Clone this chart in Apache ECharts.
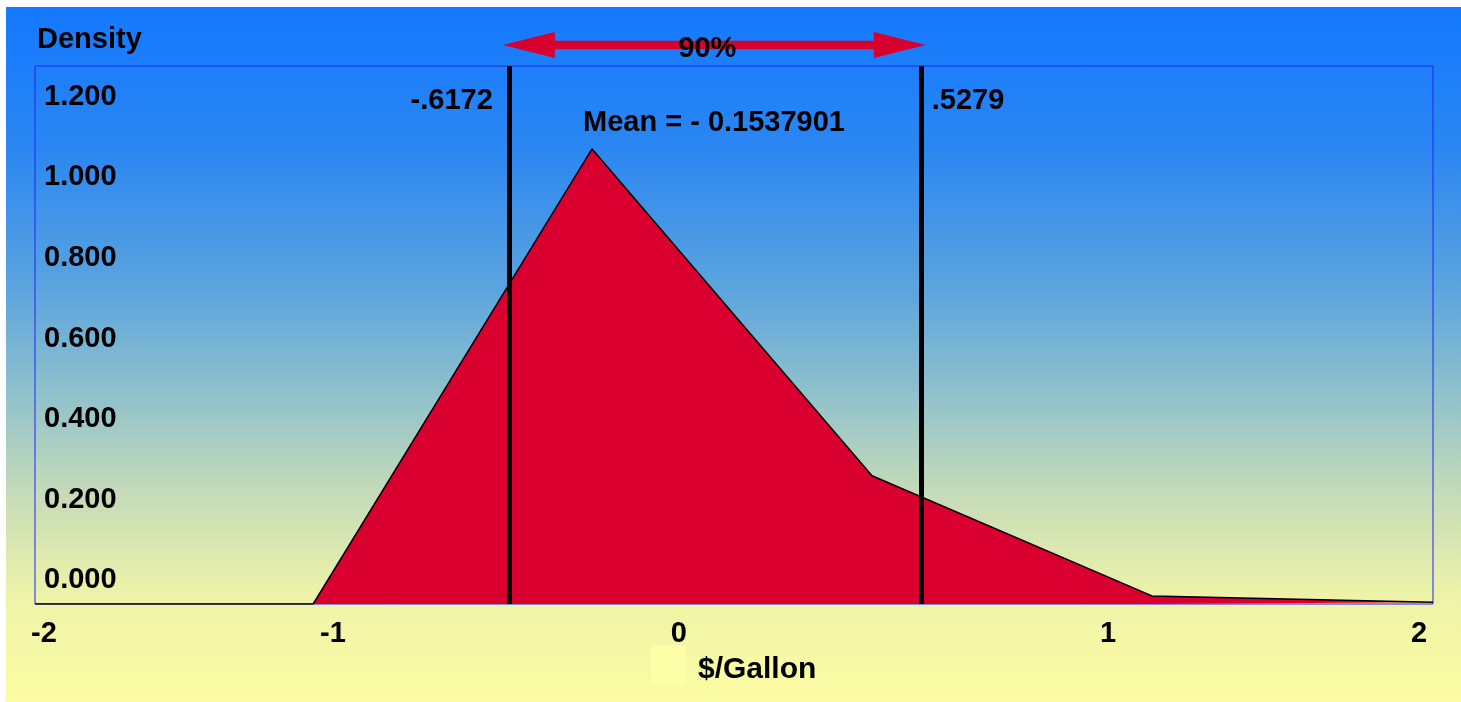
<!DOCTYPE html>
<html>
<head>
<meta charset="utf-8">
<title>Density – $/Gallon</title>
<script src="https://cdn.jsdelivr.net/npm/echarts@6/dist/echarts.min.js"></script>
<style>
  html, body { margin: 0; padding: 0; background: #ffffff; }
  #chart { width: 1461px; height: 702px; }
</style>
</head>
<body>
<div id="chart"></div>
<script>
// Piecewise-linear density of the price change ($/Gallon)
const xValues = [-1.94, -1.165, -0.388, 0.392, 1.172, 1.955];
const density = [0, 0, 1.015, 0.286, 0.018, 0.004];

// 90% interval bounds and the distribution mean
const bounds = [-0.6172, 0.5279];
const boundLabels = ['-.6172', '.5279'];
const meanValue = -0.1537901;
const coverageLabel = '90%';

// Axis tick labels (x labels sit at the values in xTickAt)
const xTickLabels = ['-2', '-1', '0', '1', '2'];
const xTickAt = [-1.915, -1.11, -0.146, 1.05, 1.916];
const yTickValues = [0, 0.2, 0.4, 0.6, 0.8, 1.0, 1.2];
const yTitle = 'Density';

const FONT = '"Liberation Sans", Arial, sans-serif';
const txt = { fontFamily: FONT, fontWeight: 'bold', fontSize: 29, color: '#000' };

const chart = echarts.init(document.getElementById('chart'), null, { renderer: 'canvas' });

const seriesData = xValues.map((x, i) => [x, density[i]]);

const option = {
  animation: false,
  backgroundColor: '#ffffff',
  grid: {
    left: 35, top: 66, right: 28, bottom: 98,
    show: true, borderColor: '#2222ff', borderWidth: 1,
    backgroundColor: 'transparent',
    outerBoundsMode: 'none'
  },
  legend: {
    left: 651, top: 645, padding: 0,
    selectedMode: false,
    itemWidth: 35, itemHeight: 40,
    icon: 'rect',
    itemStyle: { borderWidth: 0 },
    formatter: (name) => '{t|' + name + '}',
    textStyle: Object.assign({}, txt, {
      fontSize: 30,
      rich: { t: Object.assign({}, txt, { fontSize: 30, padding: [10, 0, 0, 7] }) }
    }),
    data: [{ name: '$/Gallon', itemStyle: { color: '#fdfea8' } }]
  },
  xAxis: [{
    type: 'value',
    min: xValues[0], max: xValues[xValues.length - 1],
    axisLine: { show: false }, axisTick: { show: false }, splitLine: { show: false },
    axisLabel: Object.assign({}, txt, {
      margin: 15,
      customValues: xTickAt,
      formatter: (v) => {
        let best = 0;
        xTickAt.forEach((t, i) => { if (Math.abs(t - v) < Math.abs(xTickAt[best] - v)) best = i; });
        return xTickLabels[best];
      }
    })
  }],
  yAxis: [{
    type: 'value', position: 'left', min: 0, max: 1.2,
    axisLine: { show: false }, axisTick: { show: false }, splitLine: { show: false },
    axisLabel: { show: false }
  }, {
    // label scale for the density ticks printed inside the plot
    type: 'value', position: 'left', min: -0.0596, max: 1.277,
    axisLine: { show: false }, axisTick: { show: false }, splitLine: { show: false },
    axisLabel: Object.assign({}, txt, {
      inside: true, margin: 9,
      customValues: yTickValues,
      formatter: (v) => v.toFixed(3)
    })
  }],
  graphic: [],
  series: [{
    name: '$/Gallon',
    type: 'line',
    data: seriesData,
    symbol: 'none',
    lineStyle: { color: '#000', width: 1.5 },
    areaStyle: { color: '#d90030', opacity: 1 },
    itemStyle: { color: '#d90030' },
    z: 2,
    markLine: {
      silent: true,
      symbol: 'none',
      lineStyle: { color: '#000', width: 5, type: 'solid' },
      label: { show: false },
      data: bounds.map(b => ({ xAxis: b }))
    },
    markPoint: {
      silent: true,
      symbol: 'circle', symbolSize: 0,
      data: bounds.map((b, i) => ({
        coord: [b, 1.122],
        label: Object.assign({}, txt, {
          show: true,
          position: i === 0 ? 'left' : 'right',
          distance: i === 0 ? 17 : 11,
          formatter: boundLabels[i]
        })
      }))
    }
  }]
};

chart.setOption(option);

// Background wash, interval arrow and annotation texts
const left = chart.convertToPixel({ xAxisIndex: 0, yAxisIndex: 0 }, [bounds[0], 0])[0];
const right = chart.convertToPixel({ xAxisIndex: 0, yAxisIndex: 0 }, [bounds[1], 0])[0];
const tipL = left - 7, tipR = right + 5, ay = 45, head = 52, halfHead = 13, halfShaft = 4.25;
const arrowPoints = [
  [tipL, ay], [tipL + head, ay - halfHead], [tipL + head, ay - halfShaft],
  [tipR - head, ay - halfShaft], [tipR - head, ay - halfHead], [tipR, ay],
  [tipR - head, ay + halfHead], [tipR - head, ay + halfShaft],
  [tipL + head, ay + halfShaft], [tipL + head, ay + halfHead]
];

chart.setOption({
  graphic: [
    {
      type: 'rect', z: -100, silent: true,
      shape: { x: 6, y: 7, width: 1455, height: 695 },
      style: {
        fill: new echarts.graphic.LinearGradient(0, 0, 0, 1, [
          { offset: 0, color: '#1479ff' },
          { offset: 0.2, color: '#2a86f2' },
          { offset: 0.4, color: '#5aa3de' },
          { offset: 0.55, color: '#8ec0cd' },
          { offset: 0.7, color: '#c5dbb8' },
          { offset: 0.85, color: '#eef3a8' },
          { offset: 1, color: '#fcfca2' }
        ])
      }
    },
    {
      type: 'text', z: 60, silent: true,
      x: 37, y: 40,
      style: { text: yTitle, font: 'bold 29px ' + FONT, fill: '#000', align: 'left', verticalAlign: 'middle' }
    },
    {
      type: 'polygon', z: 50, silent: true,
      shape: { points: arrowPoints },
      style: { fill: '#d8002f' }
    },
    {
      type: 'text', z: 60, silent: true,
      x: (tipL + tipR) / 2 - 7, y: 49,
      style: { text: coverageLabel, font: 'bold 29px ' + FONT, fill: '#000', align: 'center', verticalAlign: 'middle' }
    },
    {
      type: 'text', z: 60, silent: true,
      x: 714, y: 123,
      style: {
        text: 'Mean = - ' + Math.abs(meanValue).toFixed(7),
        font: 'bold 29px ' + FONT, fill: '#000', align: 'center', verticalAlign: 'middle'
      }
    }
  ]
});
</script>
</body>
</html>
